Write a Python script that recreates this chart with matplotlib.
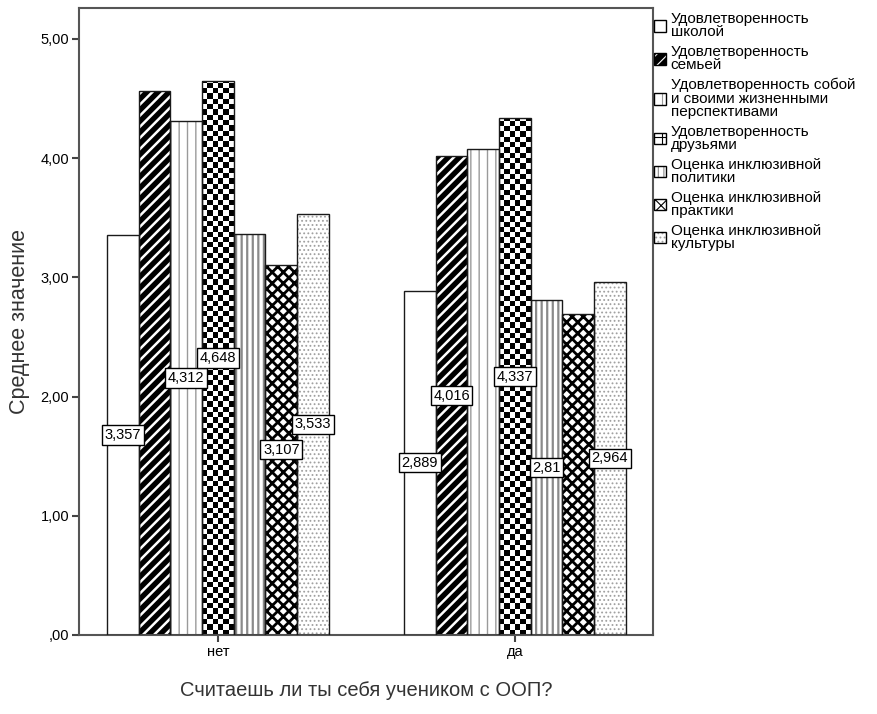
import numpy as np
import matplotlib
matplotlib.use("Agg")
import matplotlib.pyplot as plt
from matplotlib.patches import Patch
from matplotlib.legend_handler import HandlerTuple

plt.rcParams["font.family"] = ["Liberation Sans", "DejaVu Sans"]

# ─── data ───
groups = ["нет", "да"]
series = [
    "Удовлетворенность\nшколой",
    "Удовлетворенность\nсемьей",
    "Удовлетворенность собой\nи своими жизненными\nперспективами",
    "Удовлетворенность\nдрузьями",
    "Оценка инклюзивной\nполитики",
    "Оценка инклюзивной\nпрактики",
    "Оценка инклюзивной\nкультуры",
]
values_net = [3.357, 4.564, 4.312, 4.648, 3.360, 3.107, 3.533]
values_da = [2.889, 4.016, 4.080, 4.337, 2.810, 2.693, 2.964]
labels_net = ["3,357", None, "4,312", "4,648", None, "3,107", "3,533"]
labels_da = ["2,889", "4,016", None, "4,337", "2,81", None, "2,964"]
yticks = [0, 1, 2, 3, 4, 5]
ytick_labels = [",00", "1,00", "2,00", "3,00", "4,00", "5,00"]

# (facecolor, hatch colour, hatch, hatch linewidth)
styles = [
    ("white", "black", None, 1.0),
    ("black", "white", "///", 1.8),
    ("white", "#9a9a9a", "||", 1.0),
    ("checker", None, None, 1.0),
    ("white", "#8a8a8a", "|||", 1.6),
    ("white", "black", "xxx", 2.0),
    ("white", "#a0a0a0", "....", 0.8),
]

fig = plt.figure(figsize=(8.78, 7.14), dpi=100)
ax = fig.add_axes([79 / 878, 79 / 714, (653 - 79) / 878, (706 - 79) / 714])

w = 0.1067
x = np.arange(len(groups))
vals = np.array([values_net, values_da])
labs = [labels_net, labels_da]

for i, (fc, hc, hatch, hlw) in enumerate(styles):
    xi = x + (i - 3) * w
    h = vals[:, i]
    plt.rcParams["hatch.linewidth"] = hlw
    if fc == "checker":
        bars = ax.bar(xi, h, w, facecolor="white", edgecolor="none", zorder=2)
        cell = 5.3 / 119.2
        for b in bars:
            x0 = b.get_x()
            ny = int(np.ceil(b.get_height() / cell))
            chk = (np.indices((ny, 6)).sum(0) % 2).astype(float)
            im = ax.imshow(chk, cmap="gray", extent=(x0, x0 + w, 0, ny * cell),
                           origin="lower", aspect="auto", interpolation="nearest",
                           zorder=2.5)
            im.set_clip_path(b)
    else:
        bars = ax.bar(xi, h, w, facecolor=fc, edgecolor=hc, hatch=hatch,
                      linewidth=0, zorder=2)
        for b in bars:
            if hasattr(b, "set_hatch_linewidth"):
                b.set_hatch_linewidth(hlw)
    ax.bar(xi, h, w, fill=False, edgecolor="#1a1a1a", linewidth=1.0, zorder=3)

# value labels at half height
for gi in range(len(groups)):
    for i in range(len(series)):
        lab = labs[gi][i]
        if lab is None:
            continue
        ax.text(x[gi] + (i - 3) * w, vals[gi, i] / 2, lab, ha="center", va="center",
                fontsize=10.5, zorder=5,
                bbox=dict(boxstyle="square,pad=0.18", facecolor="white",
                          edgecolor="black", linewidth=1.0))

ax.set_xlim(-0.468, 1.465)
ax.set_ylim(0, 5.26)
ax.set_xticks(x)
ax.set_xticklabels(groups, fontsize=10.5)
ax.set_yticks(yticks)
ax.set_yticklabels(ytick_labels, fontsize=10.5)
ax.tick_params(axis="both", direction="out", length=5, width=1.5, color="#444444",
               pad=2)
for s in ax.spines.values():
    s.set_color("#555555")
    s.set_linewidth(1.5)
ax.set_ylabel("Среднее значение", fontsize=15.5, color="#333333", labelpad=8)
ax.set_xlabel("Считаешь ли ты себя учеником с ООП?", fontsize=14.5, color="#333333",
              labelpad=16)

# legend: fill patch + black outline overlaid
handles = []
for fc, hc, hatch, hlw in styles:
    if fc == "checker":
        fill = Patch(facecolor="white", edgecolor="black", hatch="++", linewidth=0)
    else:
        fill = Patch(facecolor=fc, edgecolor=hc, hatch=hatch, linewidth=0)
    if hasattr(fill, "set_hatch_linewidth"):
        fill.set_hatch_linewidth(min(hlw, 1.5))
    outline = Patch(fill=False, edgecolor="black", linewidth=1)
    handles.append((fill, outline))
leg = fig.legend(handles, series, loc="upper left",
                 handler_map={tuple: HandlerTuple(ndivide=1, pad=0)},
                 bbox_to_anchor=(654 / 878, 1 - 12 / 714), frameon=False,
                 fontsize=11, handlelength=0.8, handleheight=0.8,
                 handletextpad=0.3, labelspacing=0.36, borderpad=0,
                 borderaxespad=0)
for t in leg.get_texts():
    t.set_linespacing(0.95)

fig.savefig("out.png", dpi=100)
